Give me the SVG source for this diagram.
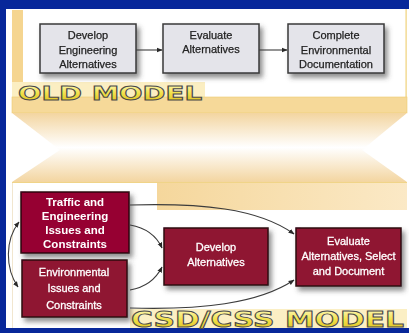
<svg xmlns="http://www.w3.org/2000/svg" width="409" height="333" viewBox="0 0 409 333">
  <defs>
    <style>
      .old-box { fill: #e4e4ea; stroke: #3a3a3a; stroke-width: 1.5; }
      .old-txt { font-family: "Liberation Sans", Arial, sans-serif; font-size: 11px; fill: #222; text-anchor: middle; stroke: #222; stroke-width: 0.25; }
      .red-box { fill: #8f1330; stroke: #2e0810; stroke-width: 1.5; }
      .red-txt { font-family: "Liberation Sans", Arial, sans-serif; font-size: 11px; fill: #fff; text-anchor: middle; stroke: #fff; stroke-width: 0.3; }
      .red-bold { font-family: "Liberation Sans", Arial, sans-serif; font-size: 11.5px; font-weight: bold; fill: #fff; text-anchor: middle; }
      .conn { fill: none; stroke: #3c3c3c; stroke-width: 1.1; }
      .title { font-family: "DejaVu Sans", "Liberation Sans", sans-serif; font-weight: bold; fill: url(#goldText); stroke: #4a4a4a; stroke-width: 0.9; }
    </style>
    <filter id="shadow" x="-20%" y="-20%" width="150%" height="160%">
      <feDropShadow dx="3" dy="4" stdDeviation="2.5" flood-color="#444" flood-opacity="0.6"/>
    </filter>
    <linearGradient id="band" x1="0" y1="0" x2="0" y2="1">
      <stop offset="0" stop-color="#f3d5a0"/>
      <stop offset="0.5" stop-color="#ffffff"/>
      <stop offset="1" stop-color="#f3d5a0"/>
    </linearGradient>
    <linearGradient id="strip" x1="0" y1="0" x2="1" y2="0">
      <stop offset="0" stop-color="#f5d79c"/>
      <stop offset="1" stop-color="#fbe9c6"/>
    </linearGradient>
    <linearGradient id="goldText" x1="0" y1="0" x2="0" y2="1">
      <stop offset="0" stop-color="#fffbd0"/>
      <stop offset="0.5" stop-color="#f2e24a"/>
      <stop offset="1" stop-color="#d8b818"/>
    </linearGradient>
    <marker id="arrow" viewBox="0 0 10 10" refX="9" refY="5" markerWidth="6" markerHeight="6" orient="auto-start-reverse" markerUnits="userSpaceOnUse">
      <path d="M0,1 L10,5 L0,9 Z" fill="#2a2a2a"/>
    </marker>
  </defs>

  <!-- slide background and panel -->
  <rect x="0" y="0" width="409" height="333" fill="#07279a"/>
  <rect x="6" y="9" width="403" height="319" fill="#ffffff"/>

  <!-- old model frame -->
  <rect x="12" y="10" width="11" height="103" fill="#f5d590"/>
  <rect x="405.5" y="9" width="1.2" height="104" fill="#f0d27a"/>
  <rect x="12" y="82" width="193" height="16" fill="#fbeec2"/>
  <rect x="12" y="97" width="395" height="16" fill="#f6d999" stroke="#efcb70" stroke-width="0.6"/>
  <text class="title" x="18" y="100" font-size="19" textLength="184" lengthAdjust="spacingAndGlyphs">OLD MODEL</text>

  <!-- transition band -->
  <rect x="12" y="113" width="395" height="69" fill="url(#band)"/>
  <polygon points="12,113 60,150 12,182" fill="#ffffff"/>
  <polygon points="407,113 362,150 407,182" fill="#ffffff"/>

  <!-- new model frame -->
  <line x1="12" y1="182.5" x2="407" y2="182.5" stroke="#f0d488" stroke-width="1"/>
  <rect x="157" y="183" width="250" height="27" fill="url(#strip)"/>
  <line x1="12.5" y1="183" x2="12.5" y2="328" stroke="#f1e6cf" stroke-width="1"/>
  <rect x="130" y="309" width="277" height="19" fill="#fbefc4"/>
  <text class="title" x="131" y="327" font-size="22" textLength="273" lengthAdjust="spacingAndGlyphs">CSD/CSS MODEL</text>

  <!-- old model nodes -->
  <g id="old-develop" filter="url(#shadow)">
    <rect class="old-box" x="40" y="24" width="96" height="49"/>
    <text class="old-txt" x="88" y="39">Develop</text>
    <text class="old-txt" x="88" y="53.5">Engineering</text>
    <text class="old-txt" x="88" y="68">Alternatives</text>
  </g>
  <g id="old-evaluate" filter="url(#shadow)">
    <rect class="old-box" x="163" y="24" width="96" height="49"/>
    <text class="old-txt" x="211" y="39">Evaluate</text>
    <text class="old-txt" x="211" y="53">Alternatives</text>
  </g>
  <g id="old-complete" filter="url(#shadow)">
    <rect class="old-box" x="288" y="24" width="96" height="49"/>
    <text class="old-txt" x="336" y="39">Complete</text>
    <text class="old-txt" x="336" y="53.5">Environmental</text>
    <text class="old-txt" x="336" y="68">Documentation</text>
  </g>

  <!-- new model nodes -->
  <g id="traffic" filter="url(#shadow)">
    <rect class="red-box" x="21" y="192" width="108" height="61" fill="#960033" style="fill:#960033"/>
    <text class="red-bold" x="75" y="206">Traffic and</text>
    <text class="red-bold" x="75" y="220">Engineering</text>
    <text class="red-bold" x="75" y="234">Issues and</text>
    <text class="red-bold" x="75" y="248">Constraints</text>
  </g>
  <g id="environmental" filter="url(#shadow)">
    <rect class="red-box" x="22" y="260" width="105" height="57"/>
    <text class="red-txt" x="74" y="276" font-size="12">Environmental</text>
    <text class="red-txt" x="74" y="292" font-size="12">Issues and</text>
    <text class="red-txt" x="74" y="309" font-size="12">Constraints</text>
  </g>
  <g id="develop" filter="url(#shadow)">
    <rect class="red-box" x="164" y="228" width="104" height="57"/>
    <text class="red-txt" x="216" y="251">Develop</text>
    <text class="red-txt" x="216" y="266">Alternatives</text>
  </g>
  <g id="evaluate" filter="url(#shadow)">
    <rect class="red-box" x="296" y="228" width="105" height="58"/>
    <text class="red-txt" x="348.5" y="245">Evaluate</text>
    <text class="red-txt" x="348.5" y="260">Alternatives, Select</text>
    <text class="red-txt" x="348.5" y="275">and Document</text>
  </g>

  <!-- connectors -->
  <g id="connectors">
    <line class="conn" x1="136" y1="50" x2="162" y2="50" marker-end="url(#arrow)"/>
    <line class="conn" x1="259" y1="50" x2="287" y2="50" marker-end="url(#arrow)"/>
    <path class="conn" d="M130,205 C200,203 258,208 294,234" marker-end="url(#arrow)"/>
    <path class="conn" d="M130,225 C147,228 157,237 162,248" marker-end="url(#arrow)"/>
    <path class="conn" d="M130,290 C147,287 157,277 162,267" marker-end="url(#arrow)"/>
    <path class="conn" d="M130,308 C200,310 258,304 294,280" marker-end="url(#arrow)"/>
    <path class="conn" d="M19,222 C5,240 5,268 18,287" marker-start="url(#arrow)" marker-end="url(#arrow)"/>
  </g>
</svg>
